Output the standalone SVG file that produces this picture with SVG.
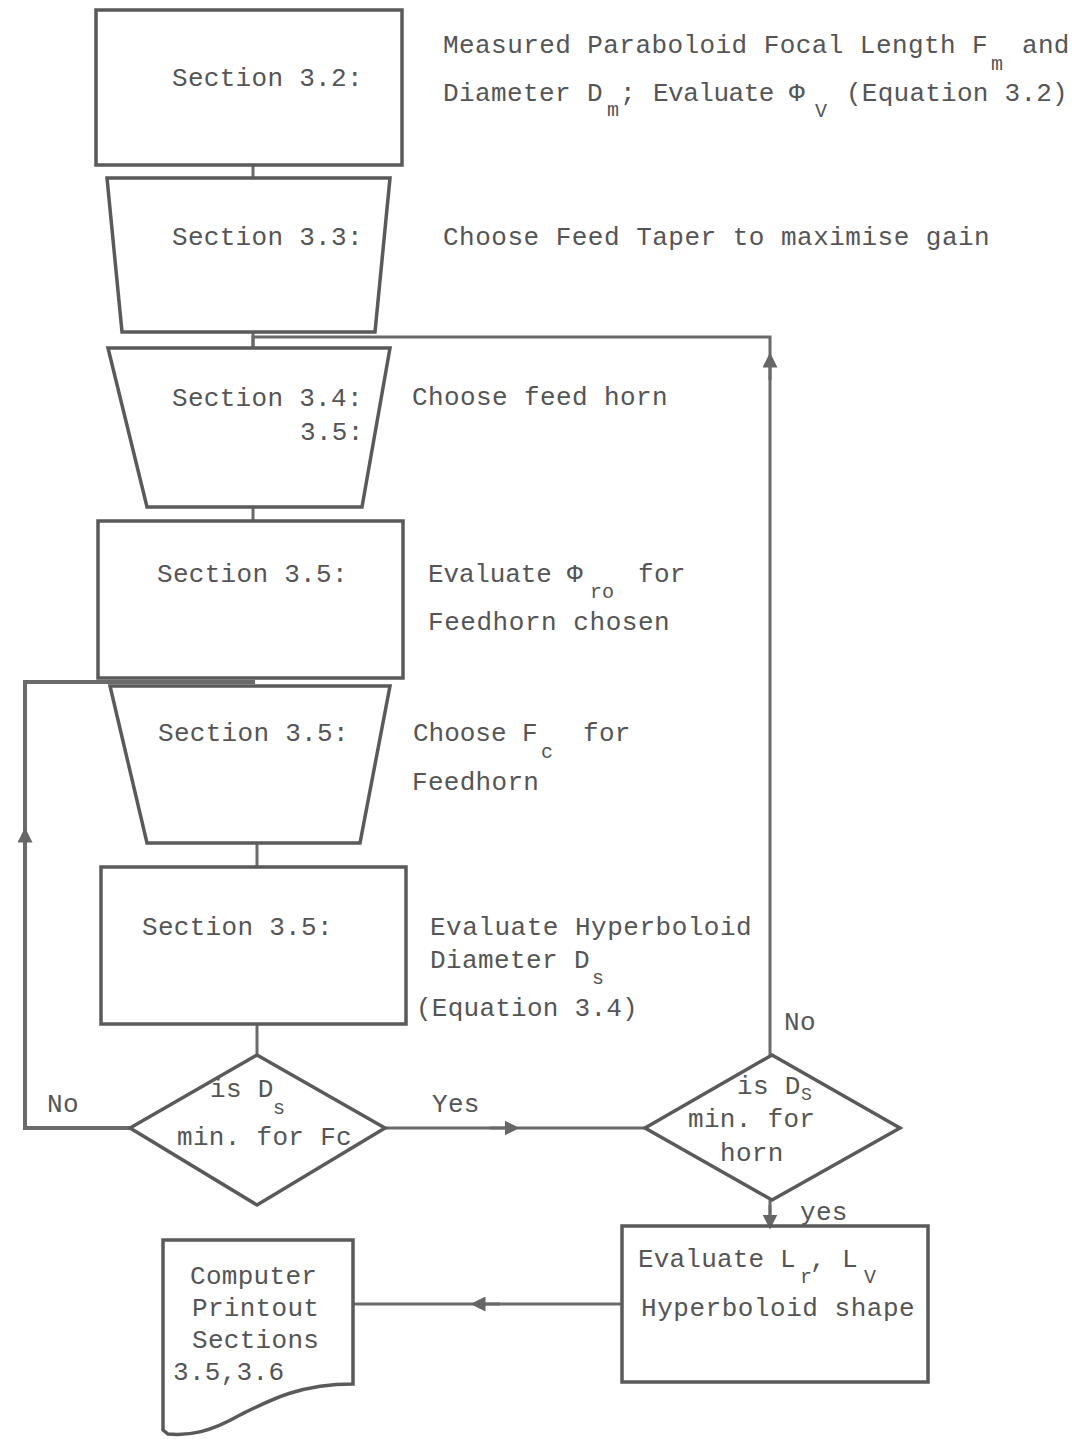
<svg xmlns="http://www.w3.org/2000/svg" width="1079" height="1439" viewBox="0 0 1079 1439">
<style>
.s{fill:none;stroke:#5a5a5a;stroke-width:3.5;stroke-linejoin:miter}
.c{fill:none;stroke:#6a6a6a;stroke-width:3}
text{font-family:"Liberation Mono","DejaVu Sans Mono",monospace;font-size:26px;letter-spacing:0.3px;fill:#555}
.sub{font-size:20px;letter-spacing:0}
</style>
<defs>
<marker id="ah" viewBox="0 0 10 10" refX="5" refY="5" markerWidth="5" markerHeight="5" orient="auto"><path d="M0,0 L10,5 L0,10 Z" fill="#666"/></marker>
</defs>
<rect width="1079" height="1439" fill="#fff"/>
<g id="connectors">
<path class="c" d="M253,165 V178"/>
<path class="c" d="M253,332 V348"/>
<path class="c" d="M253,507 V521"/>
<path class="c" d="M257,843 V867"/>
<path class="c" d="M257,1024 V1055"/>
<path class="c" d="M770,1055 V337 H253 V348"/>
<path class="c" d="M770,380 V360" marker-end="url(#ah)"/>
<path class="c" d="M130,1128 H25 V682 H255" style="stroke-width:4"/>
<path class="c" d="M25,860 V835" marker-end="url(#ah)"/>
<path class="c" d="M385,1128 H645"/>
<path class="c" d="M490,1128 H512" marker-end="url(#ah)"/>
<path class="c" d="M770,1200 V1226"/>
<path class="c" d="M770,1205 V1222" marker-end="url(#ah)"/>
<path class="c" d="M622,1304 H353"/>
<path class="c" d="M500,1304 H478" marker-end="url(#ah)"/>
</g>
<g id="n1">
<rect class="s" x="96" y="10" width="306" height="155"/>
<text x="172" y="86">Section 3.2:</text>
<text x="443" y="53" textLength="545">Measured Paraboloid Focal Length F</text>
<text class="sub" x="991" y="70">m</text>
<text x="1022" y="53">and</text>
<text x="443" y="101" textLength="160">Diameter D</text>
<text class="sub" x="607" y="116">m</text>
<text x="620" y="101">;</text>
<text x="653" y="101" textLength="152">Evaluate Φ</text>
<text class="sub" x="815" y="117">V</text>
<text x="846" y="101" textLength="222">(Equation 3.2)</text>
</g>
<g id="n2">
<path class="s" d="M107,178 H390 L375,332 H122 Z"/>
<text x="172" y="245">Section 3.3:</text>
<text x="443" y="245" textLength="547">Choose Feed Taper to maximise gain</text>
</g>
<g id="n3">
<path class="s" d="M108,348 H390 L362,507 H147 Z"/>
<text x="172" y="406">Section 3.4:</text>
<text x="300" y="440">3.5:</text>
<text x="412" y="405" textLength="256">Choose feed horn</text>
</g>
<g id="n4">
<rect class="s" x="98" y="521" width="305" height="157"/>
<text x="157" y="582">Section 3.5:</text>
<text x="428" y="582" textLength="155">Evaluate Φ</text>
<text class="sub" x="590" y="598">ro</text>
<text x="638" y="582">for</text>
<text x="428" y="630" textLength="242">Feedhorn chosen</text>
</g>
<g id="n5">
<path class="s" d="M110,686 H390 L360,843 H147 Z"/>
<text x="158" y="741">Section 3.5:</text>
<text x="413" y="741" textLength="125">Choose F</text>
<text class="sub" x="541" y="758">c</text>
<text x="583" y="741">for</text>
<text x="412" y="790">Feedhorn</text>
</g>
<g id="n6">
<rect class="s" x="101" y="867" width="305" height="157"/>
<text x="142" y="935">Section 3.5:</text>
<text x="430" y="935" textLength="322">Evaluate Hyperboloid</text>
<text x="430" y="968" textLength="160">Diameter D</text>
<text class="sub" x="592" y="984">s</text>
<text x="416" y="1016" textLength="222">(Equation 3.4)</text>
</g>
<g id="d1">
<path class="s" d="M257,1055 L385,1128 L257,1205 L130,1128 Z"/>
<text x="210" y="1097">is D</text>
<text class="sub" x="273" y="1114">s</text>
<text x="177" y="1145" textLength="175">min. for Fc</text>
</g>
<g id="d2">
<path class="s" d="M772,1055 L900,1128 L772,1200 L645,1128 Z"/>
<text x="737" y="1094">is D</text>
<text class="sub" x="801" y="1100" style="font-size:18px">S</text>
<text x="688" y="1127">min. for</text>
<text x="720" y="1161">horn</text>
</g>
<g id="labels">
<text x="47" y="1112">No</text>
<text x="432" y="1112">Yes</text>
<text x="784" y="1030">No</text>
<text x="800" y="1220">yes</text>
</g>
<g id="n7">
<rect class="s" x="622" y="1226" width="306" height="156"/>
<text x="638" y="1267" textLength="158">Evaluate L</text>
<text class="sub" x="800" y="1283">r</text>
<text x="810" y="1267">,</text>
<text x="842" y="1267">L</text>
<text class="sub" x="864" y="1283">V</text>
<text x="641" y="1316" textLength="274">Hyperboloid shape</text>
</g>
<g id="n8">
<path class="s" d="M163,1240 H353 V1384 C300,1384 270,1400 240,1415 C210,1432 190,1436 168,1434 L163,1430 Z"/>
<text x="190" y="1284">Computer</text>
<text x="192" y="1316">Printout</text>
<text x="192" y="1348">Sections</text>
<text x="173" y="1380">3.5,3.6</text>
</g>
</svg>
